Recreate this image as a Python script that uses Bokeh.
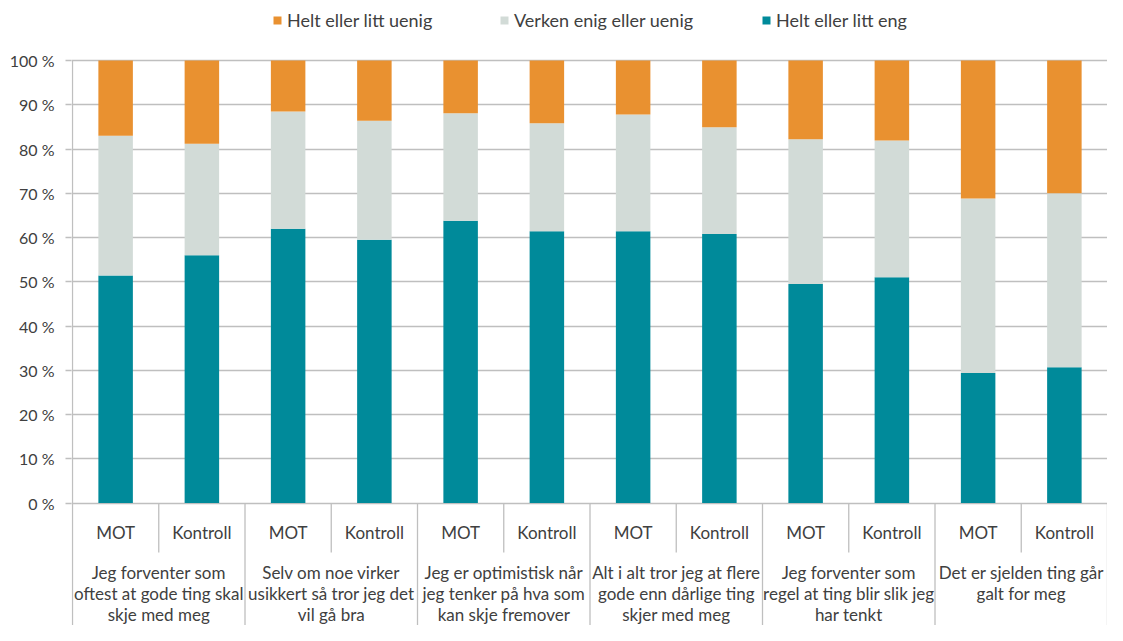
from bokeh.plotting import figure
from bokeh.models import (ColumnDataSource, FixedTicker, PrintfTickFormatter, Legend,
                          LegendItem, Range1d)
from bokeh.core.properties import value
from bokeh.embed import file_html
from bokeh.resources import INLINE

# ---------------- data ----------------
groups = [
    "Jeg forventer som\noftest at gode ting skal\nskje med meg",
    "Selv om noe virker\nusikkert så tror jeg det\nvil gå bra",
    "Jeg er optimistisk når\njeg tenker på hva som\nkan skje fremover",
    "Alt i alt tror jeg at flere\ngode enn dårlige ting\nskjer med meg",
    "Jeg forventer som\nregel at ting blir slik jeg\nhar tenkt",
    "Det er sjelden ting går\ngalt for meg",
]
subgroups = ["MOT", "Kontroll"]

series_names = ["Helt eller litt eng", "Verken enig eller uenig", "Helt eller litt uenig"]

# percent, in category order (group 1 MOT, group 1 Kontroll, group 2 MOT, ...)
enig = [51.4, 56.0, 62.0, 59.5, 63.8, 61.4, 61.4, 60.8, 49.5, 51.0, 29.4, 30.7]
verken = [31.6, 25.2, 26.5, 26.9, 24.3, 24.4, 26.4, 24.1, 32.7, 30.9, 39.4, 39.3]
uenig = [17.0, 18.8, 11.5, 13.6, 11.9, 14.2, 12.2, 15.1, 17.8, 18.1, 31.2, 30.0]

y_ticks = [0, 10, 20, 30, 40, 50, 60, 70, 80, 90, 100]

# ---------------- style / layout ----------------
C_ENIG = "#008A9A"
C_VERKEN = "#D2DBD7"
C_UENIG = "#E99130"
TXT = "#404040"
LINE = "#BFBFBF"
FONT = "Lato"

W, H = 1107, 625
LEFT = 71
PX_PER_PCT = 4.425
ZERO_PX = 502.5          # pixel row of 0 %

n_sub = len(subgroups)
n = len(groups) * n_sub

PX_PER_CAT = (W - LEFT - 1) / n
X_START = -1 / PX_PER_CAT
X_END = X_START + (W - LEFT) / PX_PER_CAT
Y_TOP = 100 + 60 / PX_PER_PCT
Y_BOT = -(H - ZERO_PX) / PX_PER_PCT


def px_below_zero(px):
    return -(px - ZERO_PX) / PX_PER_PCT


xs = [i + 0.5 for i in range(n)]
sub_labels = [subgroups[i % n_sub] for i in range(n)]

src = ColumnDataSource(dict(x=xs, enig=enig, verken=verken, uenig=uenig))

p = figure(width=W, height=H,
           x_range=Range1d(X_START, X_END),
           y_range=Range1d(Y_BOT, Y_TOP),
           x_axis_location=None,
           output_backend="svg", toolbar_location=None,
           min_border_left=LEFT, min_border_right=0,
           min_border_top=0, min_border_bottom=0)
p.outline_line_color = None
p.background_fill_color = "white"

# grid
p.xgrid.visible = False
p.ygrid.ticker = FixedTicker(ticks=y_ticks)
p.ygrid.grid_line_color = LINE
p.ygrid.grid_line_width = 1.3

# y axis
ya = p.yaxis[0]
ya.ticker = FixedTicker(ticks=y_ticks)
ya.formatter = PrintfTickFormatter(format="%d %%")
ya.bounds = (0, 100)
ya.axis_line_color = None
ya.major_tick_line_color = LINE
ya.major_tick_line_width = 1.3
ya.major_tick_in = 0
ya.major_tick_out = 6
ya.minor_tick_line_color = None
ya.major_label_text_font = FONT
ya.major_label_text_font_size = "16px"
ya.major_label_text_color = TXT
ya.major_label_standoff = 11

# bars
rs = p.vbar_stack(["enig", "verken", "uenig"], x="x", width=0.4,
                  color=[C_ENIG, C_VERKEN, C_UENIG], line_width=0, source=src)

# category axis: vertical separators (left line doubles as the value axis line)
sub_sep_x = [g * n_sub + k for g in range(len(groups)) for k in range(1, n_sub)]
grp_sep_x = [g * n_sub for g in range(len(groups) + 1)]
p.segment(x0=sub_sep_x, y0=[0] * len(sub_sep_x), x1=sub_sep_x,
          y1=[px_below_zero(552)] * len(sub_sep_x), line_color=LINE, line_width=1.3)
p.segment(x0=grp_sep_x, y0=[0] * len(grp_sep_x), x1=grp_sep_x,
          y1=[Y_BOT] * len(grp_sep_x), line_color=LINE, line_width=1.3)
p.segment(x0=[0], y0=[0], x1=[0], y1=[100], line_color=LINE, line_width=1.3)

# category labels
p.text(x=xs, y=[px_below_zero(532)] * n, text=sub_labels,
       text_align="center", text_baseline="middle",
       text_font=value(FONT), text_font_size="17px", text_color=TXT)
grp_x = [g * n_sub + n_sub / 2 for g in range(len(groups))]
p.text(x=grp_x, y=[px_below_zero(561)] * len(groups), text=groups,
       text_align="center", text_baseline="top", text_line_height=1.0,
       text_font=value(FONT), text_font_size="17px", text_color=TXT)

# legend (three entries placed like the original)
legend_order = [(2, 201), (1, 428), (0, 690)]
for idx, lx in legend_order:
    lg = Legend(items=[LegendItem(label=series_names[idx], renderers=[rs[idx]])],
                location=(lx, 594), orientation="horizontal",
                border_line_color=None, background_fill_alpha=0,
                padding=0, margin=0, spacing=0,
                glyph_width=10, glyph_height=10, label_standoff=5,
                label_text_font=FONT, label_text_font_size="18px",
                label_text_color=TXT, label_height=20)
    p.add_layout(lg)

open("out.html", "w").write(file_html(p, INLINE))
